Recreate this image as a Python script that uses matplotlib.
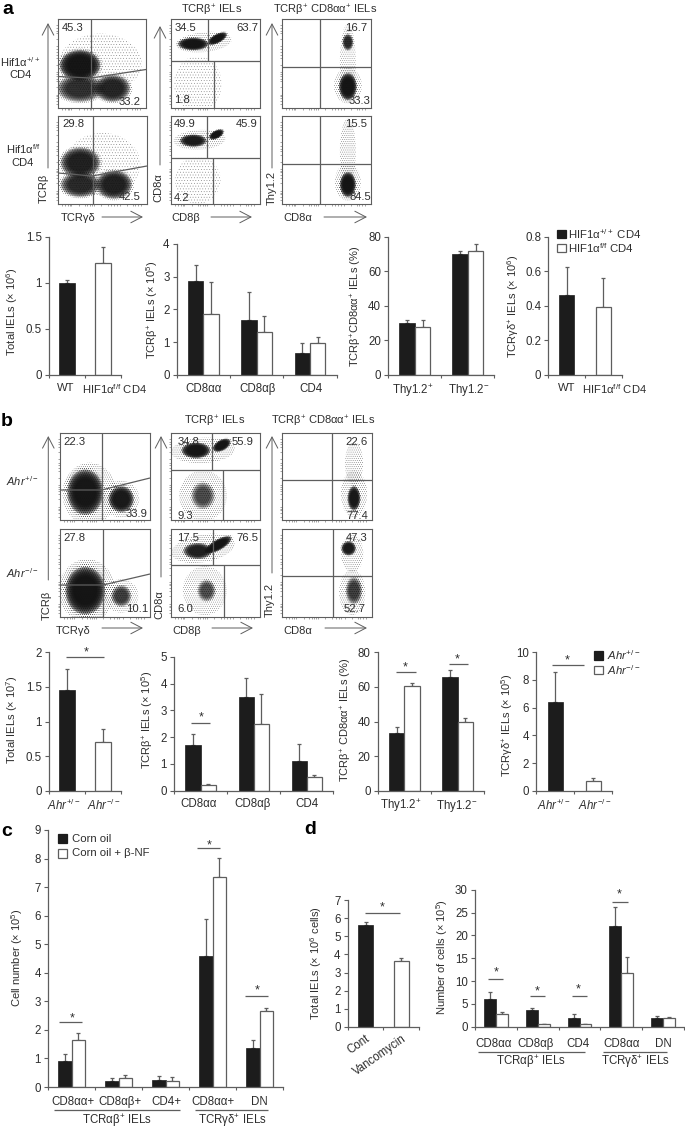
import matplotlib
matplotlib.use("Agg")
import matplotlib.pyplot as plt
from matplotlib.patches import Ellipse, Rectangle, FancyArrowPatch
from matplotlib.lines import Line2D

W, H = 685, 1128
plt.rcParams['font.family'] = ['Liberation Sans', 'DejaVu Sans']
plt.rcParams['mathtext.fontset'] = 'custom'
plt.rcParams['mathtext.rm'] = 'Liberation Sans'
plt.rcParams['mathtext.it'] = 'Liberation Sans:italic'
plt.rcParams['mathtext.bf'] = 'Liberation Sans:bold'
plt.rcParams['mathtext.default'] = 'regular'
plt.rcParams['hatch.linewidth'] = 0.25

INK = '#2e2e2e'
LINE = '#5e5e5e'
DARK = '#1c1c1c'
FS = 8.0

# ---------- bar data (mean, top of error bar) ----------
a1_mean = [1.0, 1.21];                     a1_top = [1.03, 1.39]
a2_black = [2.87, 1.67, 0.68];             a2_black_top = [3.37, 2.52, 0.97]
a2_white = [1.87, 1.30, 0.97];             a2_white_top = [2.83, 1.80, 1.16]
a3_black = [30, 70];                       a3_black_top = [32, 72]
a3_white = [28, 72];                       a3_white_top = [32, 75.5]
a4_mean = [0.465, 0.395];                  a4_top = [0.625, 0.56]

b1_mean = [1.46, 0.70];                    b1_top = [1.76, 0.89]
b2_black = [1.7, 3.5, 1.1];                b2_black_top = [2.1, 4.2, 1.75]
b2_white = [0.2, 2.5, 0.5];                b2_white_top = [0.26, 3.6, 0.6]
b3_black = [33.5, 66];                     b3_black_top = [37, 69.5]
b3_white = [60.5, 40];                     b3_white_top = [62.5, 42]
b4_mean = [6.4, 0.68];                     b4_top = [8.6, 0.9]

c_black = [0.9, 0.22, 0.25, 4.6, 1.35];    c_black_top = [1.16, 0.3, 0.38, 5.87, 1.63]
c_white = [1.63, 0.33, 0.2, 7.37, 2.67];   c_white_top = [1.88, 0.41, 0.35, 8.02, 2.77]

d1_mean = [5.62, 3.62];                    d1_top = [5.78, 3.78]
d2_black = [6, 3.7, 2, 22, 1.9];           d2_black_top = [7.6, 4.2, 2.7, 26.3, 2.4]
d2_white = [2.7, 0.6, 0.6, 11.8, 1.9];     d2_white_top = [3.2, 0.7, 0.7, 15.3, 2.1]

# ---------- labels ----------
hif_ff = 'HIF1α$^{f/f}$ CD4'
ahr_p = '$\\mathit{Ahr}^{+/-}$'
ahr_m = '$\\mathit{Ahr}^{-/-}$'
groups_a2 = ['CD8αα', 'CD8αβ', 'CD4']
groups_thy = ['Thy1.2$^{+}$', 'Thy1.2$^{-}$']
groups_c = ['CD8αα+', 'CD8αβ+', 'CD4+', 'CD8αα+', 'DN']
groups_d = ['CD8αα', 'CD8αβ', 'CD4', 'CD8αα', 'DN']

# ---------- flow gate percentages ----------
gates_a1 = [['45.3', '33.2'], ['29.8', '42.5']]
gates_a2 = [['34.5', '63.7', '1.8'], ['49.9', '45.9', '4.2']]
gates_a3 = [['16.7', '33.3'], ['15.5', '84.5']]
gates_b1 = [['22.3', '33.9'], ['27.8', '10.1']]
gates_b2 = [['34.8', '55.9', '9.3'], ['17.5', '76.5', '6.0']]
gates_b3 = [['22.6', '77.4'], ['47.3', '52.7']]

# Flow cytometry clouds are summarised, not simulated: each entry is an estimate
# on a 0-100 box scale: (cx, cy, rx, ry, angle, density).
clouds_a1 = [
    [(48, 50, 42, 30, 0, .12), (25, 22, 26, 15, 0, .6), (62, 22, 20, 15, 0, .7),
     (25, 48, 23, 17, 0, 1)],
    [(50, 45, 38, 32, 0, .12), (25, 22, 22, 14, 0, .65), (63, 22, 20, 16, 0, .75),
     (25, 47, 22, 17, 0, .75)],
]
clouds_a2 = [
    [(30, 27, 24, 28, 0, .1), (37, 74, 28, 10, 6, .3), (25, 72, 17, 7, 0, 1), (52, 78, 12, 5, 28, 1)],
    [(30, 27, 23, 24, 0, .12), (32, 73, 26, 10, 3, .28), (25, 72, 15, 7, 0, .85), (51, 79, 9, 4.5, 28, 1)],
]
clouds_a3 = [
    [(74, 52, 8, 38, 0, .22), (74, 25, 14, 18, 0, .25), (74, 74, 6, 9, 0, .65), (74, 24, 10, 15, 0, 1)],
    [(74, 60, 8, 33, 0, .3), (74, 25, 13, 19, 0, .3), (74, 22, 9, 14, 0, 1)],
]
clouds_b1 = [
    [(33, 30, 27, 32, 0, .3), (68, 24, 18, 19, 0, .25), (28, 32, 20, 26, 0, .95), (68, 24, 14, 15, 0, .85)],
    [(30, 30, 28, 32, 0, .35), (68, 24, 17, 17, 0, .22), (28, 30, 22, 27, 0, 1), (68, 24, 11, 12, 0, .5)],
]
clouds_b2 = [
    [(36, 28, 24, 26, 0, .25), (36, 28, 13, 15, 0, .42), (36, 80, 32, 13, 3, .3), (28, 80, 16, 9, 0, .95),
     (57, 86, 11, 6, 30, 1)],
    [(38, 30, 22, 25, 0, .22), (40, 30, 10, 12, 0, .42), (36, 78, 32, 14, 10, .32), (30, 75, 16, 9, 0, .75),
     (53, 82, 17, 6, 30, 1)],
]
clouds_b3 = [
    [(80, 65, 9, 22, 0, .3), (80, 30, 13, 24, 0, .3), (80, 25, 7, 14, 0, .9)],
    [(78, 72, 11, 19, 0, .28), (78, 28, 13, 23, 0, .28), (74, 78, 8, 8, 0, .85), (80, 30, 9, 15, 0, .5)],
]

flow_ticks = [4, 8, 11, 13, 15, 24, 30, 33, 36, 38, 40, 48, 56, 60, 63, 66, 70, 78, 84, 87, 90, 93]

fig = plt.figure(figsize=(W / 100, H / 100), dpi=100, facecolor='white')


def axpx(x0, top, x1, bottom):
    return fig.add_axes([x0 / W, 1 - bottom / H, (x1 - x0) / W, (bottom - top) / H])


def T(x, y, s, size=FS, ha='center', va='center', **kw):
    kw.setdefault('color', INK)
    return fig.text(x / W, 1 - y / H, s, fontsize=size, ha=ha, va=va, **kw)


def L(xs, ys, color=LINE, lw=0.9):
    fig.add_artist(Line2D([x / W for x in xs], [1 - y / H for y in ys], color=color, lw=lw,
                          solid_capstyle='butt'))


def arrow(x0, y0, x1, y1):
    fig.add_artist(FancyArrowPatch(
        (x0 / W, 1 - y0 / H), (x1 / W, 1 - y1 / H), transform=fig.transFigure,
        arrowstyle='->,head_length=5,head_width=2.6', lw=0.7, color=LINE, shrinkA=0, shrinkB=0,
        mutation_scale=1.6))


def flow(box, clouds):
    x0, top, x1, bottom = box
    ax = axpx(x0, top, x1, bottom)
    ax.set_xlim(0, 100)
    ax.set_ylim(0, 100)
    for sp in ax.spines.values():
        sp.set_color(LINE)
        sp.set_linewidth(0.8)
    ax.set_xticks(flow_ticks)
    ax.set_yticks(flow_ticks)
    ax.set_xticklabels([])
    ax.set_yticklabels([])
    ax.tick_params(length=1.4, width=0.4, color=LINE, pad=0)
    for cx, cy, rx, ry, ang, dens in clouds:
        e = dict(angle=ang, zorder=1)
        if dens >= .42:
            for f in (1.0, .92, .84, .76, .68, .6):
                ax.add_patch(Ellipse((cx, cy), 2 * rx * f, 2 * ry * f,
                                     facecolor=(.06, .06, .06, dens * .45), edgecolor='none', **e))
        ax.add_patch(Ellipse((cx, cy), 2 * rx * 1.12, 2 * ry * 1.12, facecolor='none',
                             edgecolor=(.1, .1, .1, min(1, dens + .4)), lw=0,
                             hatch='.' * (6 if dens < .2 else 8), **e))
    return ax


def frac_lines(ax, box, segs):
    x0, top, x1, bottom = box
    for xs, ys in segs:
        ax.plot([(x - x0) / (x1 - x0) * 100 for x in xs], [(bottom - y) / (bottom - top) * 100 for y in ys],
                color=LINE, lw=0.9, zorder=3, solid_capstyle='butt')


def upper_err(ax, x, mean, top, color):
    err = [t - m for t, m in zip(top, mean)]
    ax.errorbar(x, mean, yerr=[[0] * len(err), err], fmt='none', ecolor=color, elinewidth=0.9,
                capsize=1.7, capthick=0.9, zorder=1)


def bar_axes(box, ylim, yticks, ylabels, nx):
    ax = axpx(*box)
    ax.set_xlim(0, nx)
    ax.set_ylim(*ylim)
    ax.patch.set_alpha(0)
    for s in ('top', 'right'):
        ax.spines[s].set_visible(False)
    for s in ('left', 'bottom'):
        ax.spines[s].set_color(LINE)
        ax.spines[s].set_linewidth(0.9)
    ax.set_yticks(yticks)
    ax.set_yticklabels(ylabels, fontsize=FS + .3, color=INK)
    ax.tick_params(axis='y', length=2.6, width=0.8, color=LINE, pad=2.5)
    ax.set_xticks(range(nx + 1), minor=True)
    ax.tick_params(axis='x', which='minor', length=2.2, width=0.8, color=LINE)
    ax.tick_params(axis='x', which='major', length=0)
    return ax


def xlabels(ax, pos, labels, pad, size=FS + .3):
    ax.set_xticks(pos)
    ax.set_xticklabels(labels, fontsize=size, color=INK)
    ax.tick_params(axis='x', which='major', pad=pad)


def paired(ax, black, black_top, white, white_top, w=0.29):
    x = [i + .5 for i in range(len(black))]
    xb = [i - w / 2 for i in x]
    xw = [i + w / 2 for i in x]
    upper_err(ax, xb, black, black_top, LINE)
    upper_err(ax, xw, white, white_top, LINE)
    ax.bar(xb, black, w, color=DARK, edgecolor=DARK, lw=0.5, zorder=2)
    ax.bar(xw, white, w, color='white', edgecolor=LINE, lw=0.9, zorder=2)


def single(ax, mean, top, w=0.42):
    x = [.5, 1.5]
    upper_err(ax, x, mean, top, LINE)
    ax.bar(x[0], mean[0], w, color=DARK, edgecolor=DARK, lw=0.5, zorder=2)
    ax.bar(x[1], mean[1], w, color='white', edgecolor=LINE, lw=0.9, zorder=2)


def sig(x0, x1, y, star_x, star_y):
    L([x0, x1], [y, y], color=LINE, lw=0.9)
    T(star_x, star_y + 2, '*', size=9, color=INK)


def key(x0, x1, y0, y1, text, tx, black, size=FS + .2):
    fig.add_artist(Rectangle((x0 / W, 1 - y1 / H), (x1 - x0) / W, (y1 - y0) / H, transform=fig.transFigure,
                             facecolor=DARK if black else 'white', edgecolor=DARK if black else LINE, lw=0.9))
    T(tx, (y0 + y1) / 2, text, size=size, ha='left')


# ---------- panel a flow ----------
box = (58, 19, 146, 108); ax = flow(box, clouds_a1[0])
frac_lines(ax, box, [([91, 91], [19, 108]), ([58, 91, 146], [76.5, 78, 69.5])])
box = (58, 116, 147, 204); ax = flow(box, clouds_a1[1])
frac_lines(ax, box, [([92.5, 92.5], [116, 204]), ([58, 92, 147], [173, 176, 166])])
box = (171, 19, 260, 108); ax = flow(box, clouds_a2[0])
frac_lines(ax, box, [([208, 208], [19, 61.5]), ([171, 260], [61.5, 61.5]), ([213.5, 213.5], [61.5, 108])])
box = (171, 116, 260, 204); ax = flow(box, clouds_a2[1])
frac_lines(ax, box, [([207, 207], [116, 158]), ([171, 260], [158, 158]), ([213, 213], [158, 204])])
box = (282, 19, 371, 108); ax = flow(box, clouds_a3[0])
frac_lines(ax, box, [([319.5, 319.5], [19, 108]), ([282, 371], [67, 67])])
box = (282, 116, 371, 204); ax = flow(box, clouds_a3[1])
frac_lines(ax, box, [([319.5, 319.5], [116, 204]), ([282, 371], [164, 164])])

# ---------- panel b flow ----------
box = (60, 433, 150, 520); ax = flow(box, clouds_b1[0])
frac_lines(ax, box, [([101.5, 101.5], [433, 520]), ([60, 101.5, 150], [490, 490, 478])])
box = (60, 529, 150, 617); ax = flow(box, clouds_b1[1])
frac_lines(ax, box, [([103, 103], [529, 617]), ([60, 103, 150], [585, 585, 574])])
box = (171, 433, 260, 520); ax = flow(box, clouds_b2[0])
frac_lines(ax, box, [([212, 212], [433, 470]), ([171, 260], [470, 470]), ([223, 223], [470, 520])])
box = (171, 529, 260, 617); ax = flow(box, clouds_b2[1])
frac_lines(ax, box, [([212.5, 212.5], [529, 565]), ([171, 260], [565, 565]), ([223.5, 223.5], [565, 617])])
box = (282, 433, 372, 520); ax = flow(box, clouds_b3[0])
frac_lines(ax, box, [([332, 332], [433, 520]), ([282, 372], [480, 480])])
box = (282, 529, 372, 617); ax = flow(box, clouds_b3[1])
frac_lines(ax, box, [([332.5, 332.5], [529, 617]), ([282, 372], [576, 576])])

for vals, pos in [
    (gates_a1[0], [(73, 28), (130, 101.7)]), (gates_a1[1], [(73, 124), (130, 197)]),
    (gates_a2[0], [(185, 28), (247, 28), (181.7, 100)]), (gates_a2[1], [(185, 124), (247, 124), (182, 198)]),
    (gates_a3[0], [(356, 28), (360, 100.7)]), (gates_a3[1], [(356, 124), (360, 197)]),
    (gates_b1[0], [(74, 442), (137, 514)]), (gates_b1[1], [(74, 538), (137, 609)]),
    (gates_b2[0], [(188, 442), (243, 442), (185, 516)]), (gates_b2[1], [(188, 538), (247, 538), (185, 609)]),
    (gates_b3[0], [(356, 442), (357, 516)]), (gates_b3[1], [(357, 538), (355, 609)]),
]:
    for v, (x, y) in zip(vals, pos):
        T(x, y, v, size=FS + .1, zorder=10)

T(212, 10, 'TCRβ$^{+}$ IELs')
T(325, 10, 'TCRβ$^{+}$ CD8αα$^{+}$ IELs')
T(20, 62, 'Hif1α$^{+/+}$'); T(20, 74.5, 'CD4')
T(23, 149, 'Hif1α$^{f/f}$'); T(22, 162.5, 'CD4')
T(44, 188, 'TCRβ', rotation=90); T(78, 218, 'TCRγδ'); arrow(102, 217, 143, 217); arrow(48, 168, 48, 23)
T(158, 188, 'CD8α', rotation=90); T(186, 218, 'CD8β'); arrow(211, 217, 252, 217); arrow(160, 165, 160, 26)
T(272, 188, 'Thy1.2', rotation=90); T(298, 218, 'CD8α'); arrow(324, 217, 367, 217); arrow(272, 168, 272, 23)

T(215, 421, 'TCRβ$^{+}$ IELs')
T(323, 421, 'TCRβ$^{+}$ CD8αα$^{+}$ IELs')
T(22, 481, ahr_p); T(22, 573, ahr_m)
T(47, 605, 'TCRβ', rotation=90); T(73, 631, 'TCRγδ'); arrow(102, 628, 143, 628); arrow(48.3, 580, 48.3, 436)
T(159, 605, 'CD8α', rotation=90); T(187, 631, 'CD8β'); arrow(212, 628, 253, 628); arrow(161, 577, 161, 436)
T(270, 600, 'Thy1.2', rotation=90); T(298, 631, 'CD8α'); arrow(325, 628, 367, 628); arrow(272, 573, 272, 436)

# ---------- panel a bars ----------
ax = bar_axes((49, 236.7, 121, 375), (0, 1.5), [0, .5, 1, 1.5], ['0', '0.5', '1', '1.5'], 2)
single(ax, a1_mean, a1_top); xlabels(ax, [.46, 1.83], ['WT', hif_ff], 5.5, size=FS + .1)
T(12.3, 312, 'Total IELs (× 10$^{6}$)', rotation=90)

ax = bar_axes((176.7, 244, 336.7, 375), (0, 4), range(5), [str(i) for i in range(5)], 3)
paired(ax, a2_black, a2_black_top, a2_white, a2_white_top, w=.285); xlabels(ax, [.51, 1.51, 2.51], groups_a2, 5.5)
T(151.7, 310, 'TCRβ$^{+}$ IELs (× 10$^{5}$)', rotation=90)

ax = bar_axes((388.3, 236.7, 494.3, 375), (0, 80), range(0, 81, 20), [str(i) for i in range(0, 81, 20)], 2)
paired(ax, a3_black, a3_black_top, a3_white, a3_white_top, w=.295); xlabels(ax, [.47, 1.52], groups_thy, 5)
T(356.7, 306.7, 'TCRβ$^{+}$CD8αα$^{+}$ IELs (%)', rotation=90)

ax = bar_axes((548.3, 236.7, 621.7, 375), (0, .8), [0, .2, .4, .6, .8], ['0', '0.2', '0.4', '0.6', '0.8'], 2)
single(ax, a4_mean, a4_top); xlabels(ax, [.5, 1.8], ['WT', hif_ff], 5.5, size=FS + .1)
T(513.3, 306.7, 'TCRγδ$^{+}$ IELs (× 10$^{6}$)', rotation=90)
key(557, 565.7, 229.7, 237.7, 'HIF1α$^{+/+}$ CD4', 568.3, True)
key(557, 565.7, 244, 252.3, 'HIF1α$^{f/f}$ CD4', 568.3, False)

# ---------- panel b bars ----------
ax = bar_axes((49, 652.3, 121, 790.7), (0, 2), [0, .5, 1, 1.5, 2], ['0', '0.5', '1', '1.5', '2'], 2)
single(ax, b1_mean, b1_top); xlabels(ax, [.42, 1.51], [ahr_p, ahr_m], 5)
T(12.3, 720, 'Total IELs (× 10$^{7}$)', rotation=90)
sig(66, 104.3, 656.7, 85.7, 650)

ax = bar_axes((174, 656.7, 333.3, 790.7), (0, 5), range(6), [str(i) for i in range(6)], 3)
paired(ax, b2_black, b2_black_top, b2_white, b2_white_top, w=.285); xlabels(ax, [.46, 1.48, 2.5], groups_a2, 5.5)
T(146.7, 720, 'TCRβ$^{+}$ IELs (× 10$^{5}$)', rotation=90)
sig(190.7, 210, 722.7, 200.7, 715)

ax = bar_axes((377.7, 652.3, 484.3, 790.7), (0, 80), range(0, 81, 20), [str(i) for i in range(0, 81, 20)], 2)
paired(ax, b3_black, b3_black_top, b3_white, b3_white_top, w=.29); xlabels(ax, [.44, 1.49], groups_thy, 5)
T(346, 720, 'TCRβ$^{+}$ CD8αα$^{+}$ IELs (%)', rotation=90)
sig(396, 415.7, 672.3, 405.3, 665.7)
sig(448.7, 468, 664, 457.3, 657.7)

ax = bar_axes((536.3, 652.3, 612.3, 790.7), (0, 10), range(0, 11, 2), [str(i) for i in range(0, 11, 2)], 2)
single(ax, b4_mean, b4_top, w=.405); xlabels(ax, [.45, 1.54], [ahr_p, ahr_m], 5)
T(506.7, 725, 'TCRγδ$^{+}$ IELs (× 10$^{5}$)', rotation=90)
sig(552.3, 583.7, 665.3, 566.7, 658)
key(594.3, 603.3, 651, 660, ahr_p, 606.7, True)
key(594.3, 603.3, 665.7, 674.3, ahr_m, 606.7, False)

# ---------- panel c ----------
ax = bar_axes((48, 830, 283, 1087), (0, 9), range(10), [str(i) for i in range(10)], 5)
paired(ax, c_black, c_black_top, c_white, c_white_top, w=0.295)
xlabels(ax, [.53, 1.53, 2.53, 3.51, 4.5], groups_c, 6.5)
T(17, 958, 'Cell number (× 10$^{5}$)', rotation=90)
sig(58.7, 81.7, 1021.7, 72, 1016)
sig(196.5, 220, 848, 209, 843)
sig(245.5, 268.3, 996, 257, 988)
L([54, 180], [1110, 1110]); L([195, 268], [1110, 1110])
T(117, 1121, 'TCRαβ$^{+}$ IELs', size=FS + .3); T(232, 1121, 'TCRγδ$^{+}$ IELs', size=FS + .3)
key(58, 67, 834, 843, 'Corn oil', 72, True)
key(58, 67, 849, 858, 'Corn oil + β-NF', 72, False)

# ---------- panel d ----------
ax = bar_axes((347.7, 900.3, 419, 1026.7), (0, 7), range(8), [str(i) for i in range(8)], 2)
single(ax, d1_mean, d1_top)
ax.set_xticks([.5, 1.5])
ax.set_xticklabels(['Cont', 'Vancomycin'], fontsize=FS + .3, color=INK, rotation=35, ha='right', rotation_mode='anchor')
ax.tick_params(axis='x', which='major', pad=4)
T(316, 963, 'Total IELs (× 10$^{6}$ cells)', rotation=90)
sig(365, 400, 913, 382, 905.7)

ax = bar_axes((475, 889.7, 684, 1026.7), (0, 30), range(0, 31, 5), [str(i) for i in range(0, 31, 5)], 5)
paired(ax, d2_black, d2_black_top, d2_white, d2_white_top, w=0.287)
xlabels(ax, [.45, 1.45, 2.46, 3.5, 4.5], groups_d, 8)
T(442, 957, 'Number of cells (× 10$^{5}$)', rotation=90)
sig(488.3, 503.3, 978.7, 495.7, 970.7)
sig(529.7, 545, 996.3, 537.3, 989)
sig(571.7, 587, 996, 578, 987.7)
sig(612.3, 627.7, 902, 619.3, 892.7)
L([477.7, 585], [1052.3, 1052.3]); L([603, 667], [1052.3, 1052.3])
T(531, 1062, 'TCRαβ$^{+}$ IELs', size=FS + .3); T(635, 1062, 'TCRγδ$^{+}$ IELs', size=FS + .3)

# ---------- panel letters ----------
T(8, 9, 'a', size=14, weight='bold', color='black')
T(7, 421, 'b', size=14, weight='bold', color='black')
T(7, 831, 'c', size=14, weight='bold', color='black')
T(310, 830, 'd', size=14, weight='bold', color='black')

fig.savefig('out.png', dpi=100, facecolor='white')
